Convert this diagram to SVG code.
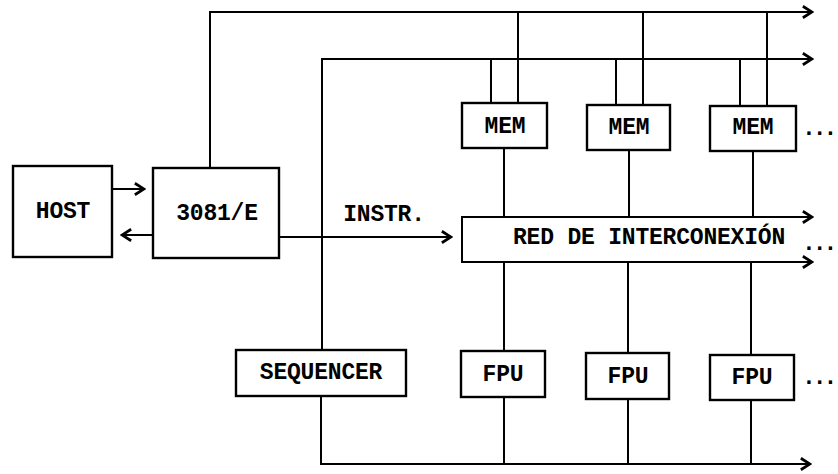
<svg xmlns="http://www.w3.org/2000/svg" width="838" height="474" viewBox="0 0 838 474">
<defs>
<marker id="chev" markerUnits="userSpaceOnUse" markerWidth="14" markerHeight="16" viewBox="-1 -7 12 14" refX="9" refY="0" orient="auto">
<path d="M1,-5 L9,0 L1,5" fill="none" stroke="#000" stroke-width="2.4"/>
</marker>
</defs>
<style>
rect{fill:#fff;stroke:#000;stroke-width:2.4}
.c path,.c line,.c polyline{fill:none;stroke:#000;stroke-width:2}
text{font-family:"Liberation Mono","Courier New",monospace;font-weight:bold;font-size:23px;letter-spacing:-0.2px;fill:#000;text-anchor:middle}
.dots{text-anchor:start;letter-spacing:-3px}
</style>
<rect x="0" y="0" width="838" height="474" style="stroke:none"/>
<g class="c" id="connectors">
<polyline points="210,168 210,12 812,12" marker-end="url(#chev)"/>
<polyline points="322,350 322,59 812,59" marker-end="url(#chev)"/>
<line x1="112" y1="189" x2="144" y2="189" marker-end="url(#chev)"/>
<line x1="153" y1="235" x2="122" y2="235" marker-end="url(#chev)"/>
<line x1="279" y1="237" x2="451" y2="237" marker-end="url(#chev)"/>
<line x1="491" y1="59" x2="491" y2="103"/>
<line x1="518" y1="12" x2="518" y2="103"/>
<line x1="616" y1="59" x2="616" y2="105"/>
<line x1="643" y1="12" x2="643" y2="105"/>
<line x1="740" y1="59" x2="740" y2="106"/>
<line x1="767" y1="12" x2="767" y2="106"/>
<line x1="504" y1="148" x2="504" y2="217"/>
<line x1="629" y1="150" x2="629" y2="217"/>
<line x1="753" y1="151" x2="753" y2="217"/>
<line x1="504" y1="262" x2="504" y2="351"/>
<line x1="628" y1="262" x2="628" y2="353"/>
<line x1="751" y1="262" x2="751" y2="355"/>
<line x1="504" y1="397" x2="504" y2="464"/>
<line x1="628" y1="399" x2="628" y2="464"/>
<line x1="751" y1="400" x2="751" y2="464"/>
<polyline points="321,396 321,464 810,464" marker-end="url(#chev)"/>
</g>
<g id="host"><rect x="13" y="166" width="99" height="91"/><text x="63" y="218">HOST</text></g>
<g id="n3081e"><rect x="153" y="168" width="126" height="90"/><text x="217" y="220">3081/E</text></g>
<g id="instr-label"><text x="384" y="221">INSTR.</text></g>
<g id="mem1"><rect x="462" y="103" width="85" height="45"/><text x="505" y="133">MEM</text></g>
<g id="mem2"><rect x="587" y="105" width="83" height="45"/><text x="629" y="134">MEM</text></g>
<g id="mem3"><rect x="710" y="106" width="86" height="45"/><text x="753" y="134">MEM</text><text class="dots" x="802" y="135">...</text></g>
<g id="red">
<g class="c">
<path d="M812,217 L462,217 L462,262 L812,262"/>
<line x1="780" y1="217" x2="812" y2="217" marker-end="url(#chev)"/>
<line x1="780" y1="262" x2="812" y2="262" marker-end="url(#chev)"/>
</g>
<text x="649" y="244">RED DE INTERCONEXIÓN</text>
<text class="dots" x="802" y="250">...</text>
</g>
<g id="sequencer"><rect x="236" y="350" width="170" height="46"/><text x="321" y="379">SEQUENCER</text></g>
<g id="fpu1"><rect x="461" y="351" width="84" height="46"/><text x="503" y="381">FPU</text></g>
<g id="fpu2"><rect x="586" y="353" width="83" height="46"/><text x="628" y="383">FPU</text></g>
<g id="fpu3"><rect x="710" y="355" width="84" height="45"/><text x="752" y="384">FPU</text><text class="dots" x="802" y="384">...</text></g>
</svg>
